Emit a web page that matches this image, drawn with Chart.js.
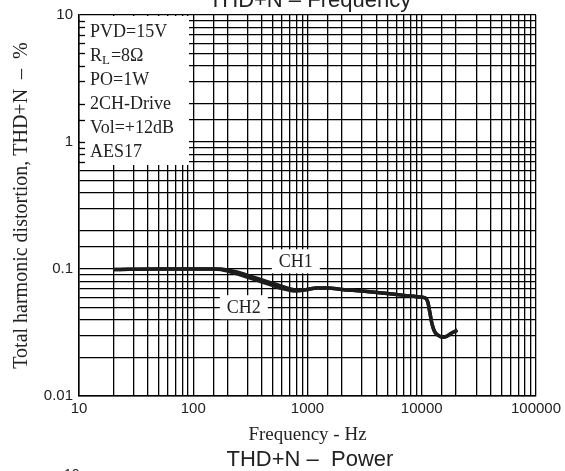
<!DOCTYPE html>
<html>
<head>
<meta charset="utf-8">
<script src="https://cdn.jsdelivr.net/npm/chart.js@4.4.0/dist/chart.umd.min.js"></script>
<style>
body { margin: 0; background: #fff; }
#wrap { position: relative; width: 565px; height: 471px; overflow: hidden; }
.txt { position: absolute; font-family: "Liberation Sans", Arial, sans-serif; color: #222; white-space: nowrap; line-height: 22px; }
</style>
</head>
<body>
<div id="wrap">
    <canvas id="graphiqueTHD" width="565" height="471"></canvas>
    <div class="txt" style="left:0; width:620px; text-align:center; top:-11px; font-size:22px;">THD+N &#8211;  Frequency</div>
    <div class="txt" style="left:0; width:620px; text-align:center; top:448px; font-size:22px;">THD+N &#8211;&nbsp; Power</div>
    <div class="txt" style="left:64px; top:463px; font-size:14px;">10</div>
</div>
<script>
// valeurs (Hz, %)
var frequences = [20, 50, 100, 150, 175, 200, 250, 300, 400, 500, 600, 700, 800, 1000, 1200, 1500, 2000, 3000, 5000, 7000, 10000, 10800, 11300, 11800, 12300, 13000, 14000, 15200, 16500, 18000, 20500];
var valeursCH1 = [0.099, 0.1, 0.1, 0.1, 0.1, 0.098, 0.094, 0.089, 0.082, 0.077, 0.073, 0.070, 0.068, 0.069, 0.071, 0.071, 0.069, 0.067, 0.064, 0.062, 0.060, 0.059, 0.055, 0.045, 0.037, 0.032, 0.030, 0.029, 0.0295, 0.031, 0.033];
var valeursCH2 = [0.099, 0.1, 0.1, 0.1, 0.099, 0.096, 0.091, 0.086, 0.079, 0.074, 0.070, 0.068, 0.067, 0.069, 0.071, 0.071, 0.069, 0.067, 0.064, 0.062, 0.060, 0.059, 0.055, 0.045, 0.037, 0.032, 0.030, 0.029, 0.0295, 0.031, 0.033];
var ticksX = [10, 100, 1000, 10000, 100000];
var ticksY = [0.01, 0.1, 1, 10];
var conditions = ["PVD=15V", "R_L=8\u03A9", "PO=1W", "2CH-Drive", "Vol=+12dB", "AES17"];
var nomsCanaux = ["CH1", "CH2"];

function GetPoints(valeurs) {
    var points = [];
    var i = 0;
    while (i < frequences.length) {
        points.push({ x: frequences[i], y: valeurs[i] });
        i++;
    }
    return points;
}

function GetLabel(liste, v) {
    var i = 0;
    while (i < liste.length) {
        if (Math.abs(liste[i] - v) / liste[i] < 1e-6) {
            return String(liste[i]);
        }
        i++;
    }
    return '';
}

var serif = '"Liberation Serif", "Times New Roman", serif';
var sans = '"Liberation Sans", Arial, sans-serif';

var annotations = {
    id: 'annotations',
    beforeDatasetsDraw: function (chart) {
        var ctx = chart.ctx;
        var area = chart.chartArea;
        var y = chart.scales.y;
        var x = chart.scales.x;
        ctx.save();

        // cadre des conditions
        var boxW = 109, boxH = 149;
        ctx.fillStyle = '#fff';
        ctx.fillRect(area.left + 1, area.top + 1, boxW, boxH);
        ctx.strokeStyle = '#000';
        ctx.lineWidth = 1.3;
        y.ticks.forEach(function (t) {
            var py = y.getPixelForValue(t.value);
            if (py > area.top + 2 && py < area.top + boxH) {
                ctx.beginPath();
                ctx.moveTo(area.left, Math.round(py) + 0.5);
                ctx.lineTo(area.left + 6, Math.round(py) + 0.5);
                ctx.stroke();
            }
        });

        ctx.fillStyle = '#222';
        ctx.textBaseline = 'middle';
        ctx.textAlign = 'left';
        conditions.forEach(function (ligne, i) {
            var tx = area.left + 11;
            var ty = area.top + 17 + i * 24;
            var morceaux = ligne.split('_');
            ctx.font = '18px ' + serif;
            ctx.fillText(morceaux[0], tx, ty);
            if (morceaux.length > 1) {
                tx += ctx.measureText(morceaux[0]).width;
                ctx.font = '13px ' + serif;
                ctx.fillText(morceaux[1].charAt(0), tx, ty + 5);
                tx += ctx.measureText(morceaux[1].charAt(0)).width + 1;
                ctx.font = '18px ' + serif;
                ctx.fillText(morceaux[1].substring(1), tx, ty);
            }
        });

        // etiquettes des canaux
        var positions = [[790, 0.115], [277, 0.05]];
        ctx.font = '18px ' + serif;
        ctx.textAlign = 'center';
        nomsCanaux.forEach(function (nom, i) {
            var cx = x.getPixelForValue(positions[i][0]);
            var cy = y.getPixelForValue(positions[i][1]);
            var w = ctx.measureText(nom).width + 14;
            ctx.fillStyle = '#fff';
            ctx.fillRect(cx - w / 2, cy - 12, w, 24);
            ctx.fillStyle = '#222';
            ctx.fillText(nom, cx, cy + 1);
        });
        ctx.restore();
    }
};

var ctx = document.getElementById('graphiqueTHD').getContext('2d');

var graphique = new Chart(ctx, {
    type: 'line',
    data: {
        datasets: [
            {
                label: nomsCanaux[0],
                data: GetPoints(valeursCH1),
                borderColor: '#1c1c1c',
                borderWidth: 3.5,
                pointRadius: 0,
                cubicInterpolationMode: 'monotone'
            },
            {
                label: nomsCanaux[1],
                data: GetPoints(valeursCH2),
                borderColor: '#1c1c1c',
                borderWidth: 3.5,
                pointRadius: 0,
                cubicInterpolationMode: 'monotone'
            }
        ]
    },
    options: {
        responsive: false,
        animation: false,
        layout: { padding: { top: 14, right: 25, left: 0, bottom: 0 } },
        plugins: {
            legend: { display: false },
            tooltip: { enabled: false }
        },
        scales: {
            x: {
                type: 'logarithmic',
                min: 10,
                max: 100000,
                afterFit: function (s) { s.height = 75; },
                grid: { color: '#000', lineWidth: 1.3, drawTicks: false },
                border: { color: '#000', width: 1.5 },
                ticks: {
                    autoSkip: false,
                    maxRotation: 0,
                    padding: 4,
                    color: '#222',
                    font: { family: sans, size: 15 },
                    callback: function (v) { return GetLabel(ticksX, v); }
                },
                title: {
                    display: true,
                    text: 'Frequency - Hz',
                    color: '#222',
                    font: { family: serif, size: 19 },
                    padding: { bottom: 25 }
                }
            },
            y: {
                type: 'logarithmic',
                min: 0.01,
                max: 10,
                afterFit: function (s) { s.width = 79; },
                grid: { color: '#000', lineWidth: 1.3, drawTicks: false },
                border: { color: '#000', width: 1.5 },
                ticks: {
                    autoSkip: false,
                    padding: 6,
                    color: '#222',
                    font: { family: sans, size: 15 },
                    callback: function (v) { return GetLabel(ticksY, v); }
                },
                title: {
                    display: true,
                    text: 'Total harmonic distortion, THD+N  \u2013  %',
                    color: '#222',
                    font: { family: serif, size: 20 },
                    padding: { top: 10 }
                }
            }
        }
    },
    plugins: [annotations]
});
</script>
</body>
</html>
